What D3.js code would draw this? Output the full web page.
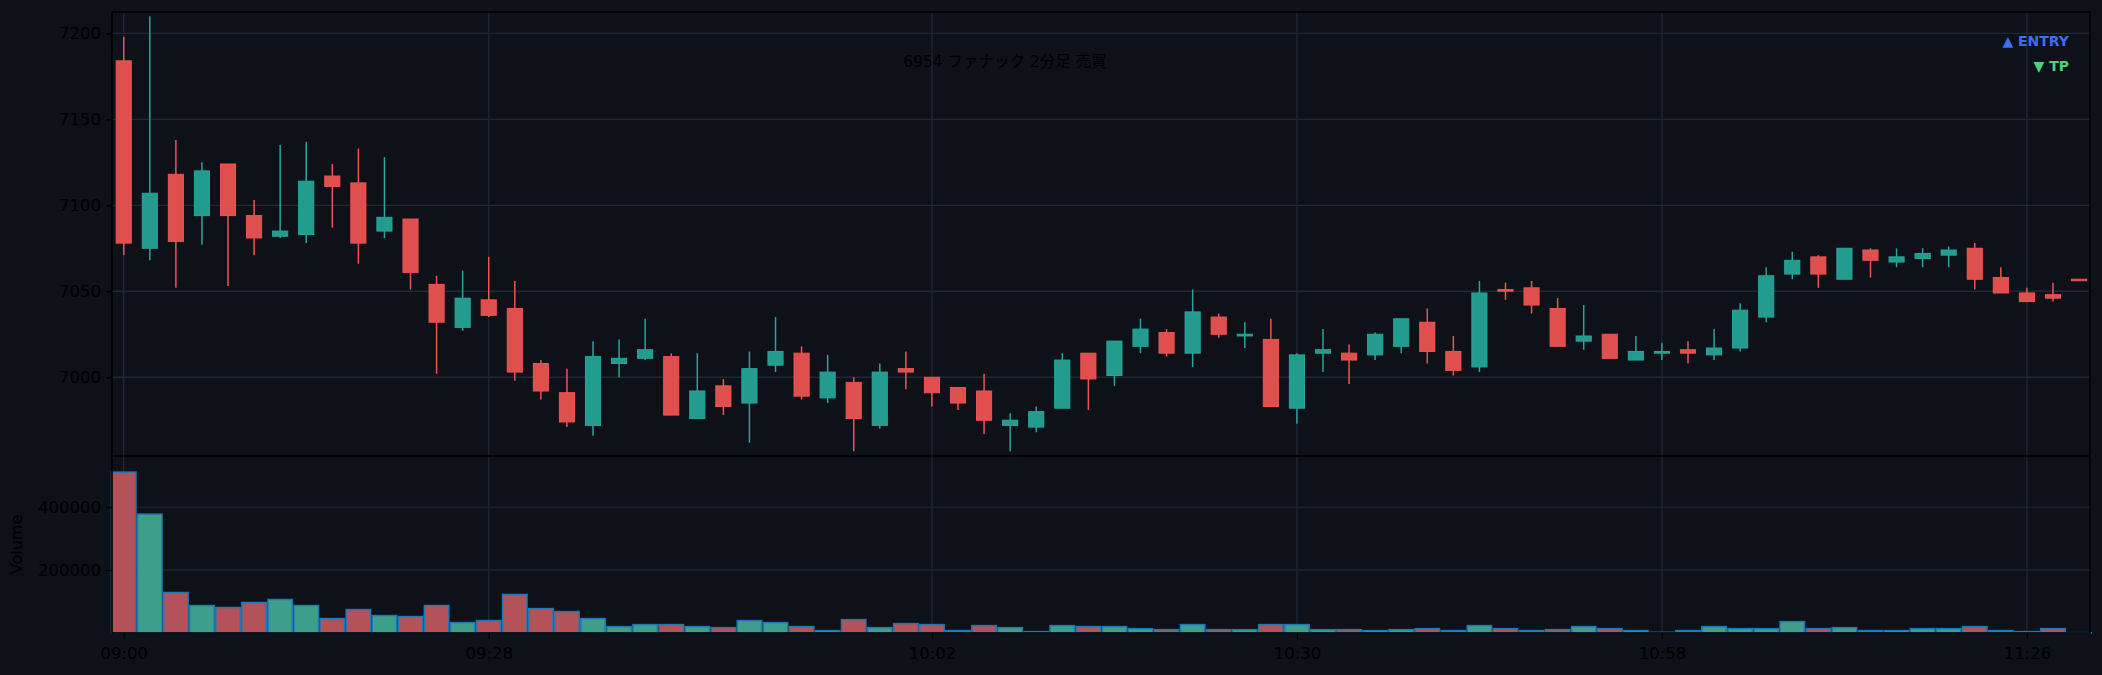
<!DOCTYPE html>
<html>
<head>
<meta charset="utf-8">
<script src="https://cdn.jsdelivr.net/npm/d3@7"></script>
<style>
  html, body { margin: 0; padding: 0; background: #0e1117; }
  svg { display: block; }
</style>
</head>
<body>
<div id="chart"></div>
<script>
// 2-minute bars, 09:00 .. 11:30
var opens  = [7184,7075,7118,7094,7124,7094,7082,7083,7117,7113,7085,7092,7054,7029,7045,7040,7008,6991,6972,7008,
              7011,7012,6976,6995,6985,7007,7014,6988,6997,6972,7005,7000,6994,6992,6972,6971,6982,7014,7001,7018,
              7026,7014,7035,7024,7022,6982,7014,7014,7013,7018,7032,7015,7006,7051,7052,7040,7021,7025,7010,7014,
              7016,7013,7017,7035,7060,7070,7057,7074,7067,7069,7071,7075,7058,7049,7048,7057];
var highs  = [7198,7210,7138,7125,7124,7103,7135,7137,7124,7133,7128,7092,7059,7062,7070,7056,7010,7005,7021,7022,
              7034,7014,7014,6999,7015,7035,7018,7013,7000,7008,7015,7000,6994,7002,6979,6983,7014,7014,7021,7034,
              7028,7051,7037,7032,7034,7014,7028,7019,7026,7034,7040,7024,7056,7055,7056,7046,7042,7025,7024,7020,
              7021,7028,7043,7064,7073,7071,7075,7075,7075,7075,7076,7078,7064,7052,7055,7057];
var lows   = [7071,7068,7052,7077,7053,7071,7081,7078,7087,7066,7081,7051,7002,7027,7035,6998,6987,6971,6966,7000,
              7010,6978,6976,6978,6962,7003,6987,6985,6957,6970,6993,6983,6981,6967,6957,6968,6982,6981,6995,7014,
              7012,7006,7023,7017,6983,6973,7003,6996,7010,7014,7008,7001,7003,7045,7037,7018,7016,7011,7010,7010,
              7008,7010,7015,7032,7057,7052,7057,7058,7064,7064,7064,7051,7049,7044,7044,7057];
var closes = [7078,7107,7079,7120,7094,7081,7085,7114,7111,7078,7093,7061,7032,7046,7036,7003,6992,6974,7012,7011,
              7016,6978,6992,6983,7005,7015,6989,7003,6976,7003,7003,6991,6985,6975,6975,6980,7010,6999,7021,7028,
              7014,7038,7025,7025,6983,7013,7016,7010,7025,7034,7015,7004,7049,7050,7042,7018,7024,7011,7015,7015,
              7014,7017,7039,7059,7068,7060,7075,7068,7070,7072,7074,7057,7049,7044,7046,7057];
var volumes = [511000,377600,128700,87300,80900,96900,106400,87300,45800,74500,55400,52200,87300,33100,39500,122500,77700,68200,45800,20300,
               26700,26700,20300,17100,39500,33100,20300,7600,42600,17100,29900,26700,7600,23500,17100,4400,23500,20300,20300,13900,
               10700,26700,10700,10700,26700,26700,10700,10700,7600,10700,13900,7600,23500,13900,7600,10700,20300,13900,7600,2200,
               7600,20300,13900,13900,36200,13900,17100,7600,7600,13900,13900,20300,7600,4400,13900,1000];

var tickIdx    = [0, 14, 31, 45, 59, 73];
var tickLabels = ["09:00", "09:28", "10:02", "10:30", "10:58", "11:26"];
var priceTicks  = [7000, 7050, 7100, 7150, 7200];
var volumeTicks = [200000, 400000];

var title = "6954 ファナック 2分足 売買";
var legendItems = [{label: "▲ ENTRY", color: "#3a6ff7"}, {label: "▼ TP", color: "#4fd27f"}];

(function() {
  var width = 2102, height = 675;
  var left = 112, right = 2090, priceTop = 12, mid = 456, bottom = 633;

  var upColor = "#26a69a", downColor = "#ef5350";
  var upVol = "#3e9e8c", downVol = "#b4525a";
  var gridColor = "#1d2937";

  var svg = d3.select("#chart").append("svg")
    .attr("width", width)
    .attr("height", height)
    .style("font-family", "'DejaVu Sans', sans-serif");

  svg.append("rect").attr("width", width).attr("height", height).attr("fill", "#0e1117");

  var n = closes.length;
  var x = d3.scaleLinear().domain([-0.45, n - 0.58]).range([left, right]);
  var y = d3.scaleLinear().domain([6954.2, 7212.4]).range([mid, priceTop]);
  var yv = d3.scaleLinear().domain([0, d3.max(volumes) * 1.1]).range([bottom, mid]);
  var step = x(1) - x(0);

  // grid
  function grid(g, yScale, ticks, y0, y1) {
    g.selectAll(".hg").data(ticks).enter().append("line")
      .attr("x1", left).attr("x2", right)
      .attr("y1", function(d) { return yScale(d); })
      .attr("y2", function(d) { return yScale(d); })
      .attr("stroke", gridColor).attr("stroke-width", 1.3);
    g.selectAll(".vg").data(tickIdx).enter().append("line")
      .attr("x1", function(d) { return x(d); }).attr("x2", function(d) { return x(d); })
      .attr("y1", y0).attr("y2", y1)
      .attr("stroke", gridColor).attr("stroke-width", 1.3);
  }
  grid(svg.append("g"), y, priceTicks, priceTop, mid);
  grid(svg.append("g"), yv, volumeTicks, mid, bottom);

  var idx = d3.range(n);
  function isUp(i) { return closes[i] > opens[i]; }

  // candles
  var candles = svg.append("g").selectAll("g").data(idx).enter().append("g");
  candles.append("line")
    .attr("x1", function(i) { return x(i); }).attr("x2", function(i) { return x(i); })
    .attr("y1", function(i) { return y(highs[i]); })
    .attr("y2", function(i) { return y(lows[i]); })
    .attr("stroke", function(i) { return isUp(i) ? upColor : downColor; })
    .attr("stroke-width", 1.5);
  candles.append("rect")
    .attr("x", function(i) { return x(i) - step * 0.29; })
    .attr("width", step * 0.58)
    .attr("y", function(i) { return y(Math.max(opens[i], closes[i])); })
    .attr("height", function(i) { return Math.max(1.5, Math.abs(y(opens[i]) - y(closes[i]))); })
    .attr("fill", function(i) { return isUp(i) ? "#239b8f" : "#df4f4d"; })
    .attr("stroke", function(i) { return isUp(i) ? upColor : downColor; })
    .attr("stroke-width", 1);

  // volume
  svg.append("g").selectAll("rect").data(idx).enter().append("rect")
    .attr("x", function(i) { return x(i - 0.5) + 0.8; })
    .attr("width", step - 1.6)
    .attr("y", function(i) { return yv(volumes[i]); })
    .attr("height", function(i) { return bottom - yv(volumes[i]); })
    .attr("fill", function(i) { return isUp(i) ? upVol : downVol; })
    .attr("stroke", "#1f77b4")
    .attr("stroke-width", 1.5);

  // spines
  var spine = svg.append("g").attr("fill", "none").attr("stroke", "#000").attr("stroke-width", 1.6);
  spine.append("rect").attr("x", left).attr("y", priceTop).attr("width", right - left).attr("height", mid - priceTop);
  spine.append("rect").attr("x", left).attr("y", mid).attr("width", right - left).attr("height", bottom - mid);

  // axes
  var yAxis = d3.axisLeft(y).tickValues(priceTicks).tickSize(6).tickPadding(5).tickFormat(d3.format("d"));
  var yvAxis = d3.axisLeft(yv).tickValues(volumeTicks).tickSize(6).tickPadding(5).tickFormat(d3.format("d"));
  var xAxis = d3.axisBottom(x).tickValues(tickIdx).tickSize(6).tickPadding(8)
    .tickFormat(function(d, k) { return tickLabels[k]; });

  function styleAxis(g) {
    g.select(".domain").remove();
    g.selectAll(".tick line").attr("stroke", "#000").attr("stroke-width", 1.4);
    g.selectAll(".tick text").attr("fill", "#000").style("font-size", "16.5px")
      .style("font-family", "'DejaVu Sans', sans-serif");
  }
  svg.append("g").attr("transform", "translate(" + left + ",0)").call(yAxis).call(styleAxis);
  svg.append("g").attr("transform", "translate(" + left + ",0)").call(yvAxis).call(styleAxis);
  svg.append("g").attr("transform", "translate(0," + bottom + ")").call(xAxis).call(styleAxis);

  svg.append("text")
    .attr("transform", "translate(22," + ((mid + bottom) / 2) + ") rotate(-90)")
    .attr("text-anchor", "middle")
    .attr("fill", "#000")
    .style("font-size", "16px")
    .text("Volume");

  // title
  svg.append("text")
    .attr("x", 1005).attr("y", 67)
    .attr("text-anchor", "middle")
    .attr("fill", "#000")
    .style("font-family", "'DejaVu Sans', 'Noto Sans CJK JP', sans-serif")
    .style("font-size", "15.5px")
    .text(title);

  // legend
  svg.append("g").selectAll("text").data(legendItems).enter().append("text")
    .attr("x", 2069)
    .attr("y", function(d, k) { return 46 + k * 25; })
    .attr("text-anchor", "end")
    .attr("fill", function(d) { return d.color; })
    .style("font-size", "14px")
    .style("font-weight", "bold")
    .text(function(d) { return d.label; });
})();
</script>
</body>
</html>
